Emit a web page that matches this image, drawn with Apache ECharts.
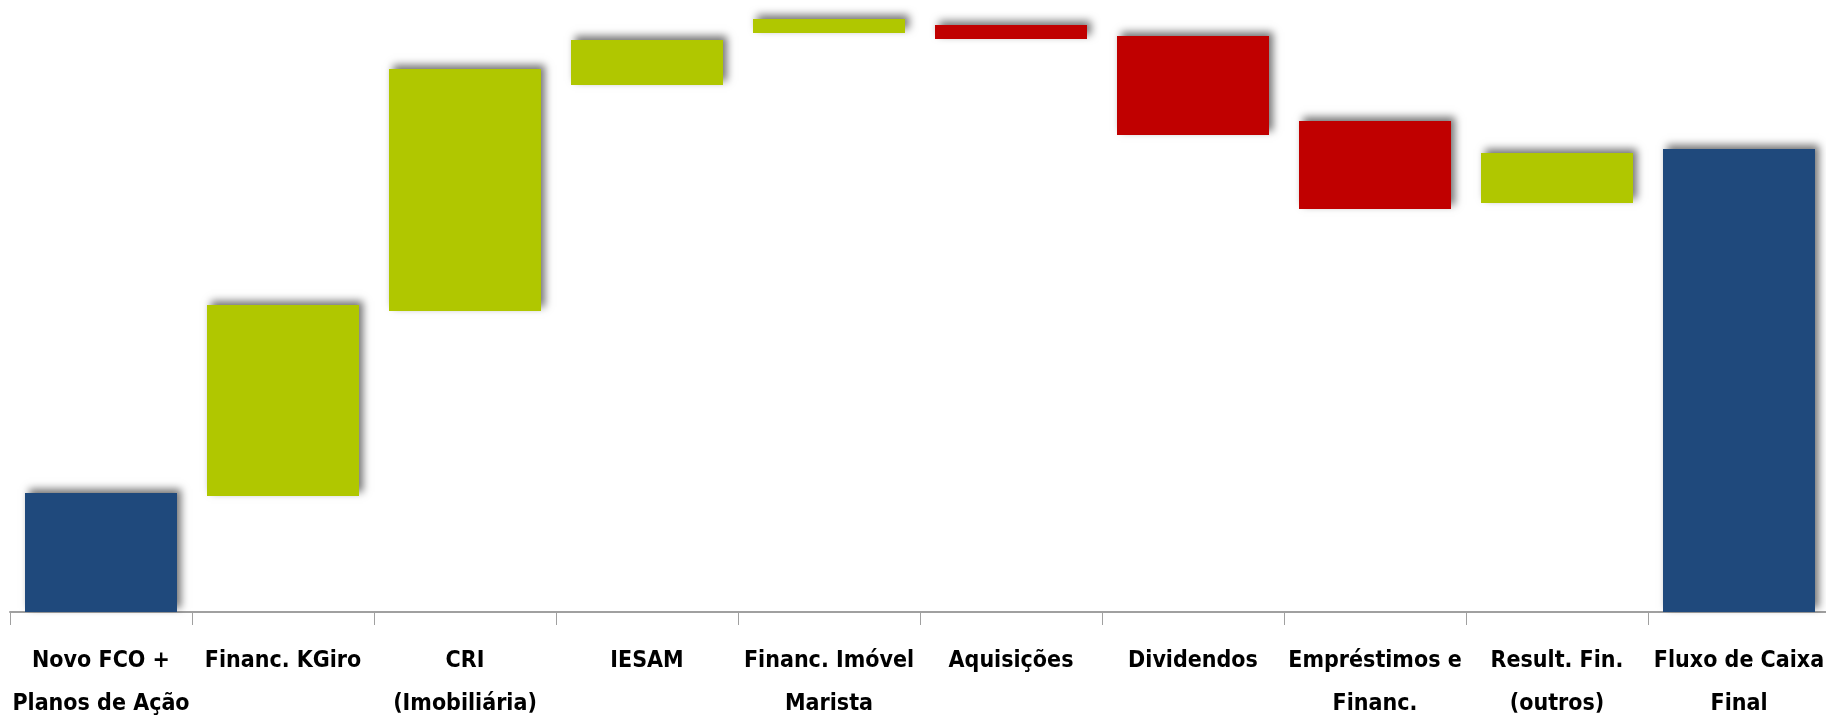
<!DOCTYPE html>
<html>
<head>
<meta charset="utf-8">
<script src="https://cdn.jsdelivr.net/npm/echarts@6/dist/echarts.min.js"></script>
<style>
html,body{margin:0;padding:0;background:#fff;}
#c{width:1826px;height:719px;}
</style>
</head>
<body>
<div id="c"></div>
<script>
// Categories (axis labels)
var categories = [
  'Novo FCO +\nPlanos de Ação',
  'Financ. KGiro',
  'CRI\n(Imobiliária)',
  'IESAM',
  'Financ. Imóvel\nMarista',
  'Aquisições',
  'Dividendos',
  'Empréstimos e\nFinanc.',
  'Result. Fin.\n(outros)',
  'Fluxo de Caixa\nFinal'
];
// Kind of each step: total, increase or decrease
var kinds = ['total','up','up','up','up','down','down','down','up','total'];
// Floating base (bottom of each bar)
var baseValues  = [0, 58, 150.5, 263.5, 289.5, 286.5, 238.5, 201.5, 204.5, 0];
// Visible bar height (absolute size of each step / total)
var deltaValues = [59.5, 95.5, 121, 22.5, 7, 7, 49.5, 44, 25, 231.5];

var colorByKind = { total: '#1F497C', up: '#B0C700', down: '#C00000' };

var chart = echarts.init(document.getElementById('c'), null, {renderer: 'canvas'});
chart.setOption({
  animation: false,
  backgroundColor: '#ffffff',
  grid: { left: 10, top: 12, width: 1820, height: 600, containLabel: false, outerBoundsMode: 'none' },
  xAxis: {
    type: 'category',
    data: categories,
    boundaryGap: true,
    axisLine: { show: true, lineStyle: { color: '#a0a0a0', width: 2 } },
    axisTick: { show: true, length: 13, alignWithLabel: false, lineStyle: { color: '#a0a0a0', width: 1 } },
    axisLabel: {
      interval: 0,
      margin: 28,
      color: '#000',
      fontFamily: '"DejaVu Sans Condensed", "DejaVu Sans", sans-serif',
      fontWeight: 'bold',
      fontSize: 23,
      lineHeight: 43,
      hideOverlap: false
    }
  },
  yAxis: {
    type: 'value',
    min: 0, max: 300,
    show: false,
    splitLine: { show: false }
  },
  series: [
    {
      name: 'base',
      type: 'bar',
      stack: 'w',
      barWidth: 152,
      silent: true,
      itemStyle: { color: 'rgba(0,0,0,0)' },
      data: baseValues
    },
    {
      name: 'valor',
      type: 'bar',
      stack: 'w',
      barWidth: 152,
      data: deltaValues.map(function (v, i) {
        return {
          value: v,
          itemStyle: {
            color: colorByKind[kinds[i]],
            shadowColor: 'rgba(0,0,0,0.55)',
            shadowBlur: 8,
            shadowOffsetX: 4,
            shadowOffsetY: -4
          }
        };
      })
    }
  ]
});
</script>
</body>
</html>
